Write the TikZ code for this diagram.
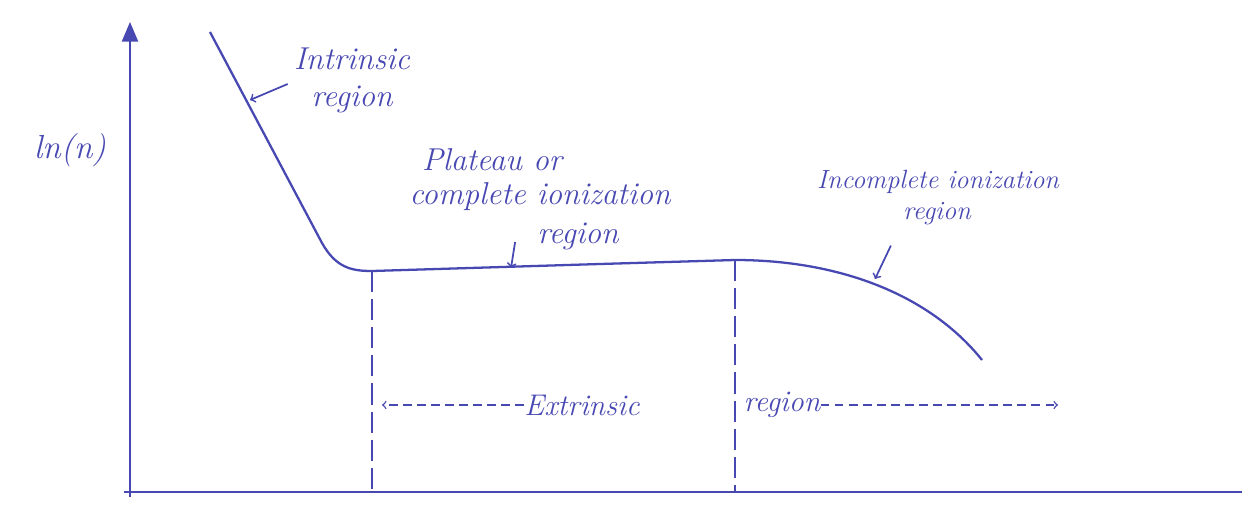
\documentclass[tikz,border=0pt]{standalone}
\usepackage{xcolor}
\usetikzlibrary{arrows, positioning, calc}
\definecolor{inkblue}{RGB}{72,72,178}

\begin{document}
\begin{tikzpicture}[x=0.02cm, y=-0.02cm]
    % Define styles
    \tikzstyle{note}=[text=inkblue, font=\fontsize{18}{21}\selectfont\itshape, align=center, inner sep=0pt]
    \tikzstyle{ink}=[draw=inkblue, line width=1.3pt]
    \tikzstyle{pointer}=[draw=inkblue, line width=1pt, ->]
    \tikzstyle{guide}=[draw=inkblue, line width=0.8pt, dash pattern=on 12pt off 4pt]
    \tikzstyle{span}=[draw=inkblue, line width=0.8pt, dash pattern=on 5pt off 3pt, ->]

    \useasboundingbox (0,0) rectangle (1257,507);

    % Axes
    \coordinate (ybottom) at (130,497);
    \coordinate (ytop) at (130,22);
    \coordinate (xstart) at (124,492);
    \coordinate (xend) at (1242,492);
    \draw[ink, line width=1.6pt, -triangle 45] (ybottom) -- (ytop);
    \draw[ink] (xstart) -- (xend);
    \node[note, font=\fontsize{19}{21}\selectfont\itshape] (ylabel) at (70,150) {ln(n)};

    % Curve
    \coordinate (pleft) at (372,271);
    \coordinate (pright) at (735,260);
    \draw[ink] (210,32) -- (322,243) .. controls (336,268) and (352,271) .. (pleft)
        -- (600,264) -- (pright) .. controls (840,260) and (930,295) .. (982,360);

    % Region borders
    \coordinate (bleft) at (372,492);
    \coordinate (bright) at (735,492);
    \draw[guide] (pleft) -- (bleft);
    \draw[guide] (pright) -- (bright);

    % Intrinsic
    \node[note] (intr) at (352,80) {Intrinsic\\region};
    \coordinate (intrpt) at (250,100);
    \draw[pointer] ($(intr.west)+(-6,4)$) -- (intrpt);

    % Plateau
    \node[note, font=\fontsize{18}{20}\selectfont\itshape] (plat1) at (492,160) {Plateau or};
    \node[note, font=\fontsize{18}{20}\selectfont\itshape] (plat2) at (540,197) {complete ionization};
    \node[note, font=\fontsize{18}{20}\selectfont\itshape] (plat3) at (578,236) {region};
    \coordinate (platpt) at (511,268);
    \draw[pointer] ($(plat3.west)+(-22,6)$) -- (platpt);

    % Incomplete ionization
    \node[note, font=\fontsize{15}{17}\selectfont\itshape] (inc1) at (938,182) {Incomplete ionization};
    \node[note, font=\fontsize{15}{17}\selectfont\itshape] (inc2) at (937,214) {region};
    \coordinate (incpt) at (875,279);
    \draw[pointer] ($(inc2.south west)+(-12,20)$) -- (incpt);

    % Extrinsic
    \node[note, font=\fontsize{17}{19}\selectfont\itshape] (ext1) at (582,405) {Extrinsic};
    \node[note, font=\fontsize{17}{19}\selectfont\itshape] (ext2) at (782,405) {region};
    \coordinate (extl) at (382,405);
    \coordinate (extr) at (1058,405);
    \draw[span] (ext1.west) -- (extl);
    \draw[span] (ext2.east) -- (extr);
\end{tikzpicture}
\end{document}
